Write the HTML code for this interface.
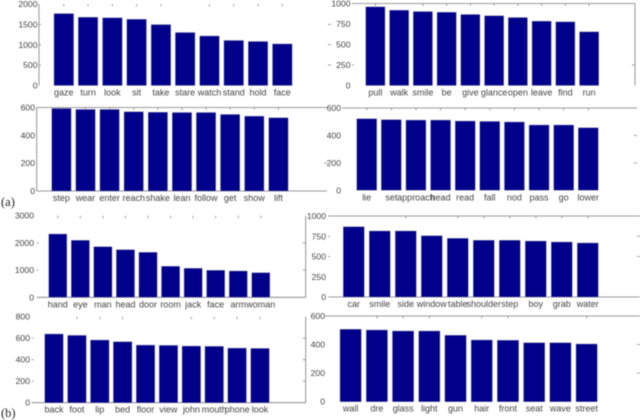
<!DOCTYPE html>
<html lang="en">
<head>
<meta charset="utf-8">
<title>Word frequency bar charts</title>
<style>
html,body{margin:0;padding:0;background:#fff;}
body{width:640px;height:420px;overflow:hidden;}
svg{display:block;filter:blur(0.4px);}
text{font-family:"Liberation Sans",sans-serif;font-size:8.6px;fill:#444;}
.xl{font-size:9px;}
.cap{font-family:"Liberation Serif",serif;font-size:12.5px;fill:#222;}
</style>
</head>
<body>
<svg id="chart" xmlns="http://www.w3.org/2000/svg" width="640" height="420" viewBox="0 0 640 420">
<text class="cap" x="1" y="206">(a)</text>
<text class="cap" x="1" y="417">(b)</text>
</svg>
<script>
var wordsA1 = ["gaze","turn","look","sit","take","stare","watch","stand","hold","face"];
var valuesA1 = [1765,1675,1660,1625,1495,1300,1215,1105,1080,1020];
var ticksA1 = [0,500,1000,1500,2000];

var wordsA2 = ["pull","walk","smile","be","give","glance","open","leave","find","run"];
var valuesA2 = [959,919,902,894,866,850,829,785,776,654];
var ticksA2 = [0,250,500,750,1000];

var wordsA3 = ["step","wear","enter","reach","shake","lean","follow","get","show","lift"];
var valuesA3 = [593,586,586,569,566,564,564,550,538,526];
var ticksA3 = [0,200,400,600];

var wordsA4 = ["lie","set","approach","head","read","fall","nod","pass","go","lower"];
var valuesA4 = [522,515,512,512,505,502,498,476,476,456];
var ticksA4 = [0,200,400,600];

var wordsB1 = ["hand","eye","man","head","door","room","jack","face","arm","woman"];
var valuesB1 = [2327,2094,1861,1751,1653,1139,1065,992,967,906];
var ticksB1 = [0,1000,2000,3000];

var wordsB2 = ["car","smile","side","window","table","shoulder","step","boy","grab","water"];
var valuesB2 = [868,815,815,757,724,700,700,691,679,667];
var ticksB2 = [0,250,500,750,1000];

var wordsB3 = ["back","foot","lip","bed","floor","view","john","mouth","phone","look"];
var valuesB3 = [639,626,583,567,536,533,527,524,508,505];
var ticksB3 = [0,200,400,600,800];

var wordsB4 = ["wall","dre","glass","light","gun","hair","front","seat","wave","street"];
var valuesB4 = [507,502,495,495,465,432,430,413,413,404];
var ticksB4 = [0,200,400,600];

var svg = document.getElementById('chart');
var NS = 'http://www.w3.org/2000/svg';
var AXIS = '#7a7a7a';

function shape(tag, attrs, parent) {
  var el = document.createElementNS(NS, tag);
  for (var k in attrs) { el.setAttribute(k, attrs[k]); }
  parent.appendChild(el);
  return el;
}

function drawPanel(p) {
  var group = shape('g', {}, svg);
  
  

  var maxTick = p.ticks[p.ticks.length - 1];
  function yPos(v) { return p.y0 - (p.y0 - p.yTop) * v / maxTick; }
  var pitch = (p.lastX - p.firstX) / (p.words.length - 1);
  function xPos(i) { return p.firstX + i * pitch; }

  if (p.top) {
    var topLine = shape('line', {x1:p.axisX, x2:p.rightX, y1:p.yTop, y2:p.yTop, stroke:AXIS, 'stroke-width':0.8}, group);
    
    
  }
  if (p.left) {
    var leftLine = shape('line', {x1:p.axisX, x2:p.axisX, y1:p.yTop, y2:p.y0, stroke:AXIS, 'stroke-width':0.8}, group);
    
    
  }
  if (p.right) {
    var rightLine = shape('line', {x1:p.rightX, x2:p.rightX, y1:p.yTop, y2:p.y0, stroke:AXIS, 'stroke-width':0.8}, group);
    
    
  }
  if (p.bottom) {
    var bottomLine = shape('line', {x1:p.axisX, x2:p.rightX, y1:p.y0, y2:p.y0, stroke:AXIS, 'stroke-width':0.8}, group);
    
    
  }

  p.ticks.forEach(function (t) {
    var label = shape('text', {x:p.labelX, y:yPos(t) + 3, 'text-anchor':'end'}, group);
    label.textContent = String(t);
    
    
    if (p.leftMarks.indexOf(t) >= 0) {
      var lt = shape('line', {x1:p.axisX, x2:p.axisX + 2, y1:yPos(t), y2:yPos(t), stroke:AXIS, 'stroke-width':0.7}, group);
      
      
    }
    if (p.rightMarks.indexOf(t) >= 0) {
      var rt = shape('line', {x1:p.rightX - 3, x2:p.rightX, y1:yPos(t), y2:yPos(t), stroke:AXIS, 'stroke-width':0.7}, group);
      
      
    }
  });

  p.words.forEach(function (word, i) {
    var bx = xPos(i);
    var bar = shape('rect', {x:bx, y:yPos(p.values[i]), width:p.barW, height:p.y0 - yPos(p.values[i]), fill:'#00008a', stroke:'#8a8aa8', 'stroke-width':0.4}, group);
    
    

    var wl = shape('text', {x:bx + p.barW / 2, y:p.y0 + 10, 'text-anchor':'middle', 'class':'xl'}, group);
    wl.textContent = word;
    
    

    if (p.skipTop.indexOf(i) < 0) {
      var tk = shape('line', {x1:bx + p.barW / 2, x2:bx + p.barW / 2, y1:p.yTop, y2:p.yTop + 2.5, stroke:AXIS, 'stroke-width':0.7}, group);
      
      
    }
  });
}

drawPanel({name:'panel-a1', words:wordsA1, values:valuesA1, ticks:ticksA1, y0:85.5, yTop:4, firstX:54, lastX:272.5, barW:19.6, axisX:39, rightX:331, labelX:37.5, left:true, right:false, top:false, bottom:false, skipTop:[5], leftMarks:[500,1000,1500], rightMarks:[500,1000,1500]});
drawPanel({name:'panel-a2', words:wordsA2, values:valuesA2, ticks:ticksA2, y0:85.5, yTop:3.5, firstX:365.8, lastX:579.5, barW:19.2, axisX:352, rightX:635, labelX:350.5, left:false, right:true, top:true, bottom:false, skipTop:[1], leftMarks:[250], rightMarks:[250]});
drawPanel({name:'panel-a3', words:wordsA3, values:valuesA3, ticks:ticksA3, y0:191, yTop:107.5, firstX:51.7, lastX:268.7, barW:19.4, axisX:36.7, rightX:327, labelX:35, left:true, right:false, top:true, bottom:true, skipTop:[], leftMarks:[], rightMarks:[200]});
drawPanel({name:'panel-a4', words:wordsA4, values:valuesA4, ticks:ticksA4, y0:190.3, yTop:108, firstX:356.7, lastX:578.3, barW:20, axisX:342, rightX:637, labelX:341, left:false, right:false, top:true, bottom:false, skipTop:[], leftMarks:[], rightMarks:[200,400]});
drawPanel({name:'panel-b1', words:wordsB1, values:valuesB1, ticks:ticksB1, y0:297.3, yTop:215.7, firstX:48.7, lastX:251.7, barW:18.2, axisX:36.7, rightX:305.7, labelX:34, left:false, right:true, top:false, bottom:true, skipTop:[], leftMarks:[1000,2000], rightMarks:[1000,2000]});
drawPanel({name:'panel-b2', words:wordsB2, values:valuesB2, ticks:ticksB2, y0:297, yTop:216, firstX:343.3, lastX:577.3, barW:21, axisX:328, rightX:640, labelX:326, left:false, right:false, top:true, bottom:true, skipTop:[0,1,3], leftMarks:[500,750], rightMarks:[500,750]});
drawPanel({name:'panel-b3', words:wordsB3, values:valuesB3, ticks:ticksB3, y0:402.7, yTop:316.7, firstX:44.7, lastX:250.7, barW:18.6, axisX:31.7, rightX:305.7, labelX:30, left:false, right:true, top:false, bottom:true, skipTop:[0,4,5], leftMarks:[200,400,600], rightMarks:[200,400,600]});
drawPanel({name:'panel-b4', words:wordsB4, values:valuesB4, ticks:ticksB4, y0:401.7, yTop:316, firstX:340, lastX:576, barW:21.3, axisX:325, rightX:640, labelX:325, left:false, right:false, top:true, bottom:false, skipTop:[0,4,7,8], leftMarks:[], rightMarks:[200,400]});
</script>
</body>
</html>
